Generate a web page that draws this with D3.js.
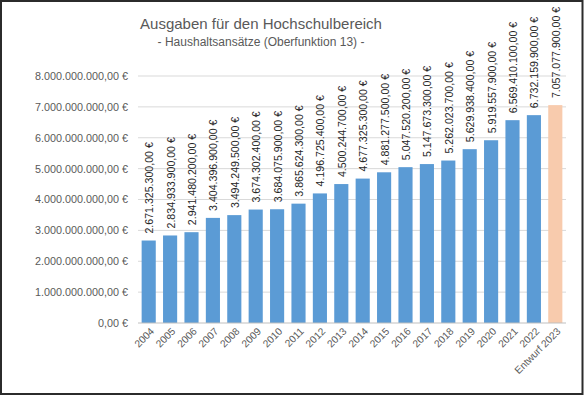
<!DOCTYPE html>
<html>
<head>
<meta charset="utf-8">
<script src="https://cdn.jsdelivr.net/npm/d3@7"></script>
<style>
  body { margin: 0; background: #fff; }
  svg { display: block; font-family: "Liberation Sans", Arial, sans-serif; }
</style>
</head>
<body>
<div id="container"></div>
<script>
// chart data
const years = ["2004", "2005", "2006", "2007", "2008", "2009", "2010", "2011", "2012", "2013",
  "2014", "2015", "2016", "2017", "2018", "2019", "2020", "2021", "2022", "Entwurf 2023"];
const amounts = [2671325300, 2834933900, 2941480200, 3404396900, 3494249500, 3674302400,
  3684075900, 3865624300, 4196725400, 4500244700, 4677325300, 4881277500, 5047520200,
  5147673300, 5262023700, 5629938400, 5919557900, 6569410100, 6732159900, 7057077900];
const yTicks = [0, 1e9, 2e9, 3e9, 4e9, 5e9, 6e9, 7e9, 8e9];

const W = 584, H = 396;
const margin = { top: 76, right: 18, bottom: 73, left: 138 };
const width = W - margin.left - margin.right;
const height = H - margin.top - margin.bottom;

const de = d3.formatLocale({ decimal: ",", thousands: ".", grouping: [3], currency: ["", " €"] });
const fmt = d => de.format(",.2f")(d) + " €";

const svg = d3.select("#container").append("svg")
  .attr("width", W)
  .attr("height", H);

svg.append("rect")
  .attr("width", W).attr("height", H)
  .attr("fill", "#fff");

const g = svg.append("g")
  .attr("transform", `translate(${margin.left}, ${margin.top})`);

const x = d3.scaleBand()
  .domain(years)
  .range([0, width])
  .paddingInner(0.34)
  .paddingOuter(0.17);

const y = d3.scaleLinear()
  .domain([0, 8e9])
  .range([height, 0]);

// gridlines
g.append("g")
  .selectAll("line")
  .data(yTicks.slice(1))
  .join("line")
  .attr("x1", 0).attr("x2", width)
  .attr("y1", d => y(d)).attr("y2", d => y(d))
  .attr("stroke", "#d9d9d9")
  .attr("stroke-width", 1);

// y axis labels
const yAxis = g.append("g")
  .call(d3.axisLeft(y).tickValues(yTicks).tickSize(0).tickPadding(10).tickFormat(fmt));
yAxis.select(".domain").remove();
yAxis.selectAll("text")
  .attr("fill", "#595959")
  .style("font-size", "10.8px")
  .style("font-family", "Liberation Sans, Arial, sans-serif");

// bars
g.selectAll(".bar")
  .data(amounts)
  .join("rect")
  .attr("class", "bar")
  .attr("x", (d, i) => x(years[i]))
  .attr("y", d => y(d))
  .attr("width", x.bandwidth())
  .attr("height", d => height - y(d))
  .attr("fill", (d, i) => i === years.length - 1 ? "#f8cbad" : "#5b9bd5");

// value labels
g.selectAll(".val")
  .data(amounts)
  .join("text")
  .attr("class", "val")
  .attr("transform", (d, i) => `translate(${x(years[i]) + x.bandwidth() / 2 + 4.5}, ${y(d) - 7}) rotate(-90)`)
  .attr("fill", "#262626")
  .style("font-size", "10.6px")
  .text(fmt);

// x axis line
g.append("line")
  .attr("x1", 0).attr("x2", width)
  .attr("y1", height).attr("y2", height)
  .attr("stroke", "#bfbfbf");

// x labels, rotated 45 degrees
g.append("g")
  .selectAll("text")
  .data(years)
  .join("text")
  .style("transform", d => `translate(${x(d) + x.bandwidth() / 2 + 6}px, ${height + 9}px) rotate(-45deg)`)
  .attr("text-anchor", "end")
  .attr("fill", "#595959")
  .style("font-size", "10.2px")
  .text(d => d);

// title
svg.append("text")
  .attr("x", 261).attr("y", 29)
  .attr("text-anchor", "middle")
  .attr("fill", "#595959")
  .style("font-size", "15px")
  .text("Ausgaben für den Hochschulbereich");

svg.append("text")
  .attr("x", 261).attr("y", 46)
  .attr("text-anchor", "middle")
  .attr("fill", "#595959")
  .style("font-size", "12px")
  .text("- Haushaltsansätze (Oberfunktion 13) -");

// frame
svg.append("rect")
  .attr("x", 1).attr("y", 1)
  .attr("width", 581.5).attr("height", 393)
  .attr("fill", "none")
  .attr("stroke", "#2b2b2b")
  .attr("stroke-width", 2);
</script>
</body>
</html>
